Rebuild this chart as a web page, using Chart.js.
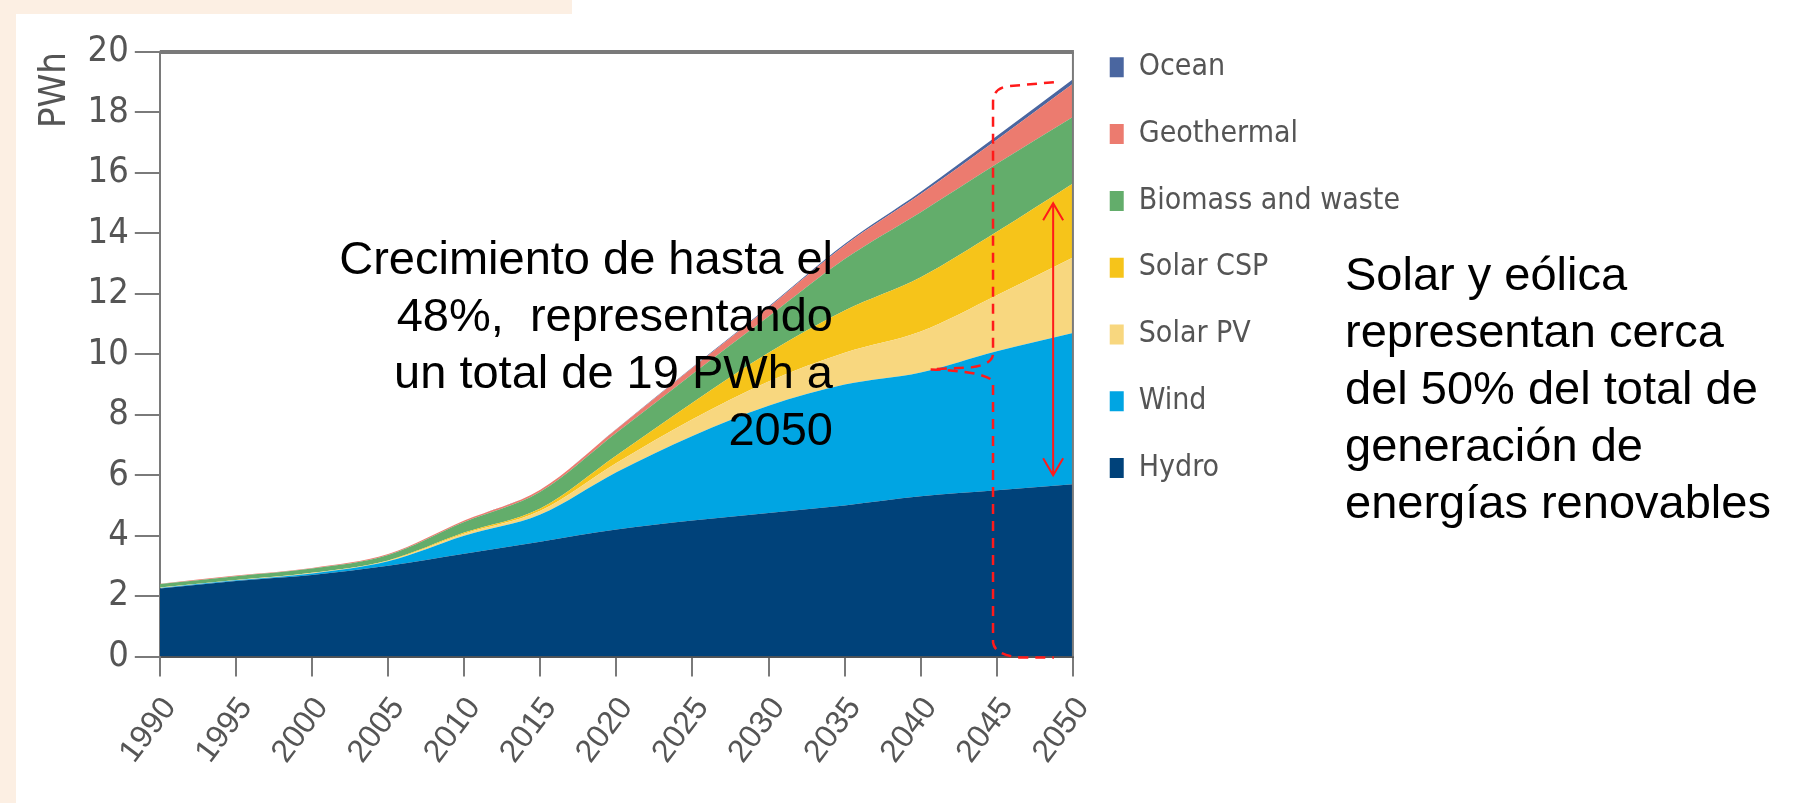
<!DOCTYPE html>
<html lang="es">
<head>
<meta charset="utf-8">
<title>Generación renovable 1990-2050</title>
<script src="https://cdn.jsdelivr.net/npm/chart.js@4.4.1/dist/chart.umd.min.js"></script>
<style>
  html, body { margin: 0; padding: 0; background: #fff; }
  #page { position: relative; width: 1795px; height: 803px; overflow: hidden; background: #fff; }
  #wrap { position: absolute; left: 0; top: 0; width: 1795px; height: 803px; }
  .edgeL { position: absolute; left: 0; top: 0; width: 16px; height: 803px; background: #fcefe3; }
  .edgeT { position: absolute; left: 0; top: 0; width: 572px; height: 14px; background: #fcefe3; }
  .note { position: absolute; font-family: "Liberation Sans", Arial, sans-serif; font-size: 47px; line-height: 57px; color: #000; white-space: pre; }
  #noteLeft { right: 962px; top: 229px; text-align: right; }
  #noteRight { left: 1345px; top: 245px; text-align: left; }
</style>
</head>
<body>
<div id="page">
  <div class="edgeL"></div>
  <div class="edgeT"></div>
  <div id="wrap"><canvas id="cRenov"></canvas></div>
  <div class="note" id="noteLeft">Crecimiento de hasta el
48%,  representando
un total de 19 PWh a
2050</div>
  <div class="note" id="noteRight">Solar y eólica
representan cerca
del 50% del total de
generación de
energías renovables</div>
</div>
<script>
// años y valores (PWh)
const years      = ['1990','1995','2000','2005','2010','2015','2020','2025','2030','2035','2040','2045','2050'];
const hydro      = [2.25, 2.50, 2.70, 3.00, 3.40, 3.80, 4.20, 4.50, 4.75, 5.00, 5.30, 5.50, 5.70];
const wind       = [0.02, 0.02, 0.05, 0.15, 0.60, 0.90, 1.90, 2.80, 3.55, 4.00, 4.10, 4.60, 5.00];
const solarPV    = [0.01, 0.01, 0.02, 0.02, 0.06, 0.12, 0.30, 0.55, 0.80, 1.05, 1.35, 1.85, 2.50];
const solarCSP   = [0.00, 0.00, 0.00, 0.01, 0.04, 0.08, 0.25, 0.55, 0.95, 1.40, 1.80, 2.10, 2.45];
const biomass    = [0.12, 0.13, 0.14, 0.18, 0.35, 0.55, 0.75, 0.95, 1.20, 1.70, 2.15, 2.25, 2.20];
const geothermal = [0.01, 0.02, 0.02, 0.03, 0.05, 0.07, 0.12, 0.20, 0.30, 0.45, 0.60, 0.80, 1.10];
const ocean      = [0.00, 0.00, 0.00, 0.00, 0.00, 0.00, 0.01, 0.02, 0.03, 0.05, 0.08, 0.12, 0.15];
const yTicks     = [0, 2, 4, 6, 8, 10, 12, 14, 16, 18, 20];

const NARROW = '"Liberation Sans Narrow", "DejaVu Sans Condensed", "Liberation Sans", sans-serif';
const SANS   = '"Liberation Sans", Arial, sans-serif';
const AXIS_GREY = '#7a7a7a';
const TEXT_GREY = '#555555';

// anotaciones rojas, en unidades del gráfico (índice de año, PWh)
const BRACKET = { left: 10.95, right: 11.75, top: 19.0, bottom: 0, tipX: 10.13, tipY: 9.5 };
const ARROW   = { x: 11.74, from: 15.0, to: 6.0 };

const series = [
  ['Hydro',             hydro,      '#00427a'],
  ['Wind',              wind,       '#00a5e3'],
  ['Solar PV',          solarPV,    '#f8d77f'],
  ['Solar CSP',         solarCSP,   '#f6c41a'],
  ['Biomass and waste', biomass,    '#63ad6b'],
  ['Geothermal',        geothermal, '#ec7b6f'],
  ['Ocean',             ocean,      '#4a66a0'],
];

const marks = {
  id: 'marks',
  afterDatasetsDraw(chart) {
    const { ctx, chartArea: a, scales: { x, y } } = chart;
    ctx.save();
    // marco superior y derecho
    ctx.strokeStyle = AXIS_GREY;
    ctx.lineWidth = 4;
    ctx.beginPath(); ctx.moveTo(a.left, a.top); ctx.lineTo(a.right + 1, a.top); ctx.stroke();
    ctx.lineWidth = 2;
    ctx.beginPath(); ctx.moveTo(a.right, a.top); ctx.lineTo(a.right, a.bottom); ctx.stroke();

    // llave roja discontinua
    const xl = x.getPixelForValue(BRACKET.left), xr = x.getPixelForValue(BRACKET.right);
    const yt = y.getPixelForValue(BRACKET.top),  yb = y.getPixelForValue(BRACKET.bottom);
    const xt = x.getPixelForValue(BRACKET.tipX), yn = y.getPixelForValue(BRACKET.tipY);
    ctx.strokeStyle = '#ff1a1a';
    ctx.lineWidth = 2.5;
    ctx.setLineDash([10, 7]);
    ctx.beginPath();
    ctx.moveTo(xr, yt);
    ctx.lineTo(xl + 15, yt + 4);
    ctx.quadraticCurveTo(xl, yt + 6, xl, yt + 20);
    ctx.lineTo(xl, yn - 16);
    ctx.quadraticCurveTo(xl, yn - 5, xl - 22, yn - 2);
    ctx.lineTo(xt, yn);
    ctx.moveTo(xt, yn);
    ctx.quadraticCurveTo(xl - 8, yn + 2, xl, yn + 12);
    ctx.lineTo(xl, yb - 14);
    ctx.quadraticCurveTo(xl + 2, yb - 1, xl + 28, yb + 1);
    ctx.lineTo(xr, yb + 1);
    ctx.stroke();

    // flecha doble
    const xa = x.getPixelForValue(ARROW.x);
    const y1 = y.getPixelForValue(ARROW.from), y2 = y.getPixelForValue(ARROW.to);
    ctx.setLineDash([]);
    ctx.lineWidth = 2;
    ctx.beginPath();
    ctx.moveTo(xa, y1); ctx.lineTo(xa, y2);
    ctx.moveTo(xa - 10, y1 + 17); ctx.lineTo(xa, y1); ctx.lineTo(xa + 10, y1 + 17);
    ctx.moveTo(xa - 10, y2 - 17); ctx.lineTo(xa, y2); ctx.lineTo(xa + 10, y2 - 17);
    ctx.stroke();
    ctx.restore();
  }
};

new Chart(document.getElementById('cRenov'), {
  type: 'line',
  data: {
    labels: years,
    datasets: series.map(([label, data, color], i) => ({
      label, data,
      backgroundColor: color, borderColor: color, borderWidth: 0,
      fill: i === 0 ? 'origin' : '-1',
      pointRadius: 0, cubicInterpolationMode: 'monotone',
    })),
  },
  options: {
    responsive: true, maintainAspectRatio: false, animation: false,
    layout: { padding: { left: 32, right: 385, top: 15.5, bottom: 18.5 } },
    plugins: {
      title: { display: true, text: '', font: { size: 10 }, padding: { top: 0, bottom: 24.5 } },
      tooltip: { enabled: false },
      legend: {
        position: 'right', align: 'start', reverse: true,
        labels: { color: TEXT_GREY, font: { family: NARROW, size: 30 }, boxWidth: 14, boxHeight: 20, padding: 36.8 },
      },
    },
    scales: {
      x: {
        ticks: { color: TEXT_GREY, font: { family: SANS, size: 32 }, minRotation: 53, maxRotation: 53, autoSkip: false, padding: 14, labelOffset: 10 },
        grid: { drawOnChartArea: false, tickLength: 20, color: AXIS_GREY, lineWidth: 2 },
        border: { color: '#555', width: 2 },
      },
      y: {
        stacked: true, min: 0, max: 20,
        afterBuildTicks: s => { s.ticks = yTicks.map(v => ({ value: v })); },
        ticks: { color: TEXT_GREY, font: { family: NARROW, size: 36 }, padding: 6 },
        grid: { drawOnChartArea: false, tickLength: 25, color: AXIS_GREY, lineWidth: 2 },
        border: { color: AXIS_GREY, width: 2 },
        title: { display: true, text: 'PWh', align: 'end', color: TEXT_GREY, font: { family: NARROW, size: 38 }, padding: { top: 0, bottom: 4 } },
      },
    },
  },
  plugins: [marks],
});
</script>
</body>
</html>
